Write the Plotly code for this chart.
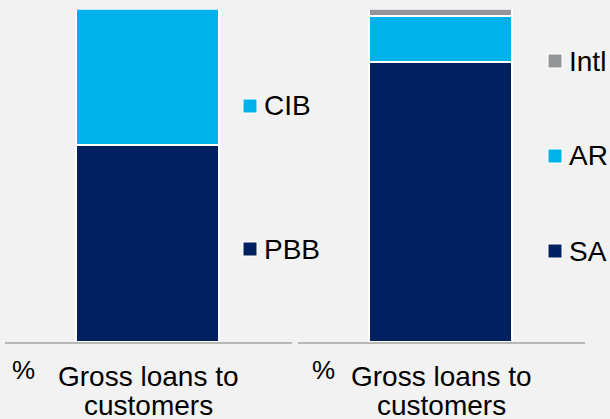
import plotly.graph_objects as go

# Composition of gross loans to customers (%)
category = "Gross loans to customers"
category_lines = ["Gross loans to", "customers"]
unit_label = "%"

# Left panel: split by business
business_names = ["PBB", "CIB"]
business_values = [59, 41]

# Right panel: split by geography
region_names = ["SA", "AR", "Intl"]
region_values = [84, 14, 2]

W, H = 610, 419
FONT = "Liberation Sans, Arial, sans-serif"
BG = "#F2F2F2"
COLORS = {"PBB": "#00205F", "CIB": "#00B2EB",
          "SA": "#00205F", "AR": "#00B2EB", "Intl": "#939598"}

# Pixel helpers (margins are zero, so paper coords map directly to pixels)
def px(x):
    return x / W

def py(y):
    return 1 - y / H

fig = go.Figure()

for name, val in zip(business_names, business_values):
    fig.add_trace(go.Bar(
        x=[category], y=[val], name=name, xaxis="x", yaxis="y",
        width=0.5, marker=dict(color=COLORS[name], line=dict(color="white", width=1.6)),
        showlegend=False, hoverinfo="name+y"))

for name, val in zip(region_names, region_values):
    fig.add_trace(go.Bar(
        x=[category], y=[val], name=name, xaxis="x2", yaxis="y2",
        width=0.5, marker=dict(color=COLORS[name], line=dict(color="white", width=1.6)),
        showlegend=False, hoverinfo="name+y"))

y_dom = [1 - 342 / H, 1 - 9.5 / H]
axis_common = dict(type="category", showline=True, linecolor="#B8B8B8", linewidth=1.5,
                   showticklabels=False, ticks="", showgrid=False, zeroline=False,
                   fixedrange=True)
yaxis_common = dict(range=[0, 100], visible=False, fixedrange=True, domain=y_dom)

annotations = []
shapes = []

# Category labels and unit marks under each panel (tight text boxes so the
# two label lines can sit close together)
for center, pct_x in [(148.8, 23), (441.6, 324)]:
    annotations.append(dict(x=px(pct_x), y=py(370), xref="paper", yref="paper",
                            text=unit_label, showarrow=False, xanchor="center", yanchor="middle",
                            font=dict(family=FONT, size=26, color="#000000")))
    for line_text, ycen in zip(category_lines, [376, 404.5]):
        annotations.append(dict(x=px(center), y=py(ycen), xref="paper", yref="paper",
                                text=line_text, showarrow=False, xanchor="center", yanchor="middle",
                                height=28, valign="middle",
                                font=dict(family=FONT, size=28, color="#000000")))

# Inline legend entries: (name, marker left x, centre y)
legend_items = [("CIB", 243, 106), ("PBB", 243, 249),
                ("Intl", 548, 61), ("AR", 548, 156), ("SA", 548, 251)]
for name, lx, ly in legend_items:
    shapes.append(dict(type="rect", xref="paper", yref="paper",
                       x0=px(lx), x1=px(lx + 14), y0=py(ly + 7), y1=py(ly - 7),
                       fillcolor=COLORS[name], line=dict(color="white", width=1)))
    annotations.append(dict(x=px(lx + 19), y=py(ly), xref="paper", yref="paper",
                            text=name, showarrow=False, xanchor="left", yanchor="middle",
                            font=dict(family=FONT, size=28, color="#000000")))

fig.update_layout(
    width=W, height=H,
    margin=dict(l=0, r=0, t=0, b=0, pad=0),
    paper_bgcolor=BG, plot_bgcolor=BG,
    barmode="stack", bargap=0,
    showlegend=False,
    xaxis=dict(domain=[px(5), px(292)], anchor="y", **axis_common),
    xaxis2=dict(domain=[px(298), px(585)], anchor="y2", **axis_common),
    yaxis=dict(anchor="x", **yaxis_common),
    yaxis2=dict(anchor="x2", **yaxis_common),
    annotations=annotations,
    shapes=shapes,
)

fig.write_html("out.html")
